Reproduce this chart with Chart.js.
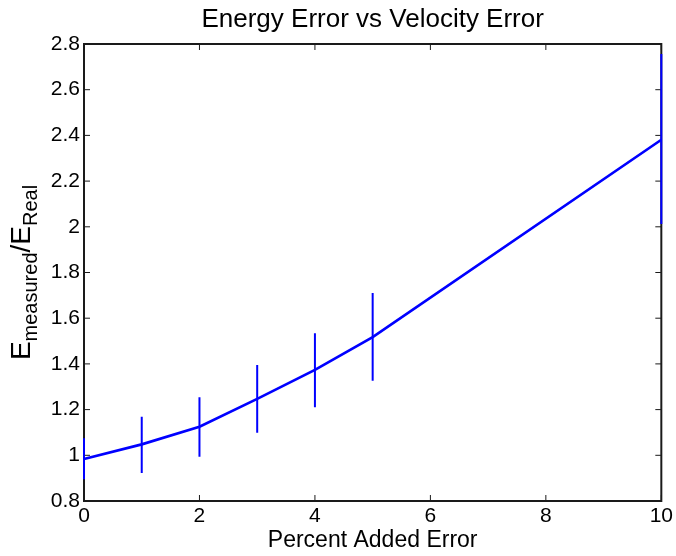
<!DOCTYPE html>
<html>
<head>
<meta charset="utf-8">
<script src="https://cdn.jsdelivr.net/npm/chart.js@4/dist/chart.umd.min.js"></script>
<style>
  body { margin: 0; background: #fff; }
  #wrap { width: 676px; height: 556px; }
</style>
</head>
<body>
<div id="wrap"><canvas id="chart"></canvas></div>
<script>
const percentError = [0, 1, 2, 3, 4, 5, 10];
const energyRatio = [0.984, 1.048, 1.125, 1.247, 1.374, 1.517, 2.381];
const barLow = [0.895, 0.923, 0.994, 1.099, 1.210, 1.326, 2.012];
const barHigh = [1.075, 1.169, 1.254, 1.395, 1.534, 1.710, 2.756];
const xTicks = [0, 2, 4, 6, 8, 10];
const yTicks = [0.8, 1, 1.2, 1.4, 1.6, 1.8, 2, 2.2, 2.4, 2.6, 2.8];

const FONT = '"Liberation Sans", Arial, Helvetica, sans-serif';
const BLUE = '#0000ff';
const AXIS = '#1a1a1a';

// error bars: one vertical segment per point, broken apart with nulls
const barSegments = [];
percentError.forEach((x, i) => {
  barSegments.push({x, y: barLow[i]}, {x, y: barHigh[i]}, {x, y: null});
});

// matlab style box with ticks pointing inwards (under the data)
const matlabBox = {
  id: 'matlabBox',
  beforeDatasetsDraw(chart) {
    const {ctx, chartArea: a, scales: {x, y}} = chart;
    const len = 6;
    ctx.save();
    ctx.strokeStyle = AXIS;
    ctx.lineWidth = 1;
    ctx.beginPath();
    xTicks.forEach(v => {
      const px = x.getPixelForValue(v);
      ctx.moveTo(px, a.bottom); ctx.lineTo(px, a.bottom - len);
      ctx.moveTo(px, a.top); ctx.lineTo(px, a.top + len);
    });
    yTicks.forEach(v => {
      const py = y.getPixelForValue(v);
      ctx.moveTo(a.left, py); ctx.lineTo(a.left + len, py);
      ctx.moveTo(a.right, py); ctx.lineTo(a.right - len, py);
    });
    ctx.stroke();
    ctx.lineWidth = 2;
    ctx.strokeRect(a.left, a.top, a.right - a.left, a.bottom - a.top);
    ctx.restore();
  },
  // y label, E_measured / E_Real with subscripts
  afterDraw(chart) {
    const {ctx, chartArea: a} = chart;
    const parts = [
      {t: 'E', size: 28, dy: 0},
      {t: 'measured', size: 20, dy: 7},
      {t: '/E', size: 28, dy: 0},
      {t: 'Real', size: 20, dy: 7}
    ];
    ctx.save();
    let total = 0;
    parts.forEach(p => {
      ctx.font = p.size + 'px ' + FONT;
      p.w = ctx.measureText(p.t).width;
      total += p.w;
    });
    ctx.translate(30, (a.top + a.bottom) / 2);
    ctx.rotate(-Math.PI / 2);
    ctx.fillStyle = '#000';
    ctx.textBaseline = 'alphabetic';
    let cx = -total / 2;
    parts.forEach(p => {
      ctx.font = p.size + 'px ' + FONT;
      ctx.fillText(p.t, cx, p.dy);
      cx += p.w;
    });
    ctx.restore();
  }
};

new Chart(document.getElementById('chart'), {
  type: 'line',
  data: {
    datasets: [{
      label: 'Energy ratio',
      data: percentError.map((x, i) => ({x, y: energyRatio[i]})),
      borderColor: BLUE,
      borderWidth: 2.7,
      pointRadius: 0,
      tension: 0,
      clip: false
    }, {
      label: 'Error bars',
      data: barSegments,
      borderColor: BLUE,
      borderWidth: 2,
      pointRadius: 0,
      spanGaps: false,
      clip: false
    }]
  },
  options: {
    responsive: true,
    maintainAspectRatio: false,
    animation: false,
    events: [],
    layout: {padding: {left: 0, right: 13, top: 0, bottom: 0}},
    plugins: {
      legend: {display: false},
      tooltip: {enabled: false},
      title: {
        display: true,
        text: 'Energy Error vs Velocity Error',
        fullSize: false,
        color: '#000',
        font: {family: FONT, size: 26, weight: 'normal', lineHeight: 1.2},
        padding: {top: 4, bottom: 8.8}
      }
    },
    scales: {
      x: {
        type: 'linear',
        min: 0,
        max: 10,
        afterBuildTicks: axis => { axis.ticks = xTicks.map(v => ({value: v})); },
        afterFit: axis => { axis.height = 55; },
        grid: {display: false, drawTicks: false},
        border: {display: false},
        ticks: {
          color: '#000',
          padding: 3,
          maxRotation: 0,
          font: {family: FONT, size: 21}
        },
        title: {
          display: true,
          text: 'Percent Added Error',
          color: '#000',
          font: {family: FONT, size: 23},
          padding: {top: 0, bottom: 2}
        }
      },
      y: {
        type: 'linear',
        min: 0.8,
        max: 2.8,
        afterBuildTicks: axis => { axis.ticks = yTicks.map(v => ({value: v})); },
        afterFit: axis => { axis.width = 84; },
        grid: {display: false, drawTicks: false},
        border: {display: false},
        ticks: {
          color: '#000',
          padding: 4,
          font: {family: FONT, size: 21},
          callback: v => String(+v.toFixed(1))
        }
      }
    }
  },
  plugins: [matlabBox]
});
</script>
</body>
</html>
